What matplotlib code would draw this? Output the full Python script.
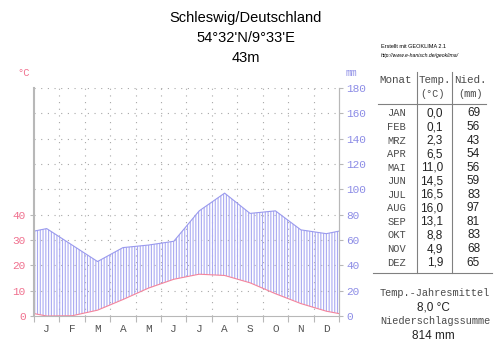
import numpy as np
import matplotlib.pyplot as plt

# Monthly climate normals, Schleswig
months_short = ["J", "F", "M", "A", "M", "J", "J", "A", "S", "O", "N", "D"]
months_table = ["JAN", "FEB", "MRZ", "APR", "MAI", "JUN",
                "JUL", "AUG", "SEP", "OKT", "NOV", "DEZ"]
temp_c = [0.0, 0.1, 2.3, 6.5, 11.0, 14.5, 16.5, 16.0, 13.1, 8.8, 4.9, 1.9]
precip_mm = [69, 56, 43, 54, 56, 59, 83, 97, 81, 83, 68, 65]
temp_ticks = [0, 10, 20, 30, 40]
precip_ticks = [0, 20, 40, 60, 80, 100, 120, 140, 160, 180]
mean_temp = "8,0 °C"
total_precip = "814 mm"

RED = "#f0708e"
BLUE = "#8c8ce6"
HATCH = "#aaaaf2"
GRIDC = "#a8a8a8"
SPINE = "#b8b8b8"
MONO = "Liberation Mono"
SANS = "Liberation Sans"
TXT = "#4a4a4a"

W, H = 500, 348
fig = plt.figure(figsize=(W / 100, H / 100), dpi=100)


def px(x, y):
    return x / W, 1 - y / H


# plot area in pixels: x 34..339, y 88..316
ax = fig.add_axes([34 / W, 1 - 316 / H, 305 / W, 228 / H])
ax.set_xlim(0, 12)
ax.set_ylim(0, 90)

# month midpoints, closed at both edges with the Dec/Jan mean
x_mid = np.arange(12) + 0.5
xs = np.concatenate([[0], x_mid, [12]])
t = np.array(temp_c)
p = np.array(precip_mm) / 2.0  # 10 °C == 20 mm
ts = np.concatenate([[(t[0] + t[-1]) / 2], t, [(t[0] + t[-1]) / 2]])
ps = np.concatenate([[(p[0] + p[-1]) / 2], p, [(p[0] + p[-1]) / 2]])

# humid period: vertical hatching between temperature and precipitation
plt.rcParams["hatch.color"] = HATCH
plt.rcParams["hatch.linewidth"] = 0.8
ax.fill_between(xs, ts, ps, where=ps >= ts, interpolate=True,
                facecolor="none", edgecolor=HATCH, hatch="||||||", linewidth=0)

ax.plot(xs, ps, color="#9a9aee", linewidth=0.8)
ax.plot(xs, ts, color="#f4849c", linewidth=0.8)

# dotted grid
for yv in range(10, 91, 10):
    ax.axhline(yv, color=GRIDC, linewidth=0.8, linestyle=(0, (1, 5)), zorder=0)
for xv in range(1, 12):
    ax.axvline(xv, color=GRIDC, linewidth=0.8, linestyle=(0, (1, 5)), zorder=0)

ax.spines["top"].set_visible(False)
for s in ["left", "bottom", "right"]:
    ax.spines[s].set_color(SPINE)
ax.spines["left"].set_linewidth(1.5)

ax.set_xticks(range(13))
ax.set_xticklabels([])
ax.set_xticks(x_mid, minor=True)
ax.set_xticklabels(months_short, minor=True, fontfamily=MONO, fontsize=8, color="#555555")
ax.tick_params(axis="x", which="major", length=4, color=SPINE, direction="out")
ax.tick_params(axis="x", which="minor", length=0, pad=6)

ax.set_yticks(temp_ticks)
ax.set_yticklabels([str(v) for v in temp_ticks], fontfamily=MONO, fontsize=8, color=RED)
ax.tick_params(axis="y", length=3, color=SPINE, pad=3)

ax2 = ax.twinx()
ax2.set_ylim(0, 180)
ax2.set_yticks(precip_ticks)
ax2.set_yticklabels([str(v) for v in precip_ticks], fontfamily=MONO, fontsize=8, color=BLUE)
ax2.tick_params(axis="y", length=3, color=SPINE, pad=2)
for s in ["top", "left", "bottom"]:
    ax2.spines[s].set_visible(False)
ax2.spines["right"].set_color(SPINE)

fig.text(*px(24, 73), "°C", color=RED, fontfamily=MONO, fontsize=7.5, ha="center", va="center")
fig.text(*px(351, 73), "mm", color=BLUE, fontfamily=MONO, fontsize=7, ha="center", va="center")

# title block
fig.text(*px(246, 18), "Schleswig/Deutschland", fontfamily=SANS, fontsize=10.5, ha="center", va="center")
fig.text(*px(246, 38), "54°32'N/9°33'E", fontfamily=SANS, fontsize=10.5, ha="center", va="center")
fig.text(*px(246, 58), "43m", fontfamily=SANS, fontsize=10.5, ha="center", va="center")

fig.text(*px(381, 47), "Erstellt mit GEOKLIMA 2.1", fontfamily=SANS, fontsize=4, ha="left", va="center")
fig.text(*px(381, 56), "http://www.e-hanisch.de/geoklima/", fontfamily=SANS, fontsize=3.7,
         ha="left", va="center", style="italic")

# data table
fig.text(*px(396, 80), "Monat", fontfamily=MONO, fontsize=7.8, ha="center", va="center", color=TXT)
fig.text(*px(434.5, 80), "Temp.", fontfamily=MONO, fontsize=7.8, ha="center", va="center", color=TXT)
fig.text(*px(470, 80), "Nied.", fontfamily=MONO, fontsize=7.8, ha="center", va="center", color=TXT)
fig.text(*px(433, 94), "(°C)", fontfamily=MONO, fontsize=7.3, ha="center", va="center", color=TXT)
fig.text(*px(470, 94), "(mm)", fontfamily=MONO, fontsize=7.3, ha="center", va="center", color=TXT)

lc = "#808080"
fig.add_artist(plt.Line2D([378 / W, 486 / W], [1 - 103.5 / H] * 2, color=lc, linewidth=0.8))
fig.add_artist(plt.Line2D([373 / W, 492 / W], [1 - 272.5 / H] * 2, color=lc, linewidth=0.8))
for xv in (416.7, 452.3):
    fig.add_artist(plt.Line2D([xv / W] * 2, [1 - 72 / H, 1 - 272.5 / H], color=lc, linewidth=0.8))

for i in range(12):
    y = 113.5 + i * 13.55
    fig.text(*px(396.5, y), months_table[i], fontfamily=MONO, fontsize=7.5, ha="center", va="center",
             color=TXT)
    fig.text(*px(443, y), f"{temp_c[i]:.1f}".replace(".", ","), fontfamily=SANS, fontsize=8.5,
             ha="right", va="center", color="#222222")
    fig.text(*px(480, y), str(precip_mm[i]), fontfamily=SANS, fontsize=8.5, ha="right", va="center",
             color="#222222")

fig.text(*px(435, 292.5), "Temp.-Jahresmittel", fontfamily=MONO, fontsize=7.4, ha="center", va="center",
         color=TXT)
fig.text(*px(433, 307.5), mean_temp, fontfamily=SANS, fontsize=8.5, ha="center", va="center", color="#222222")
fig.text(*px(435, 321.5), "Niederschlagssumme", fontfamily=MONO, fontsize=7.4, ha="center", va="center",
         color=TXT)
fig.text(*px(433, 336), total_precip, fontfamily=SANS, fontsize=8.5, ha="center", va="center", color="#222222")

fig.savefig("out.png", dpi=100)
